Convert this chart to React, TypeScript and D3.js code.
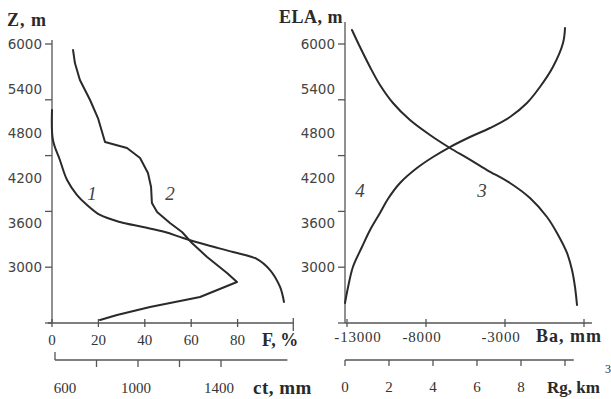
import * as d3 from "d3";

// elevation (m) shared by both panels
const zTicks = [2250, 3000, 3750, 4500, 5250, 6000];
const zLabels = [6000, 5400, 4800, 4200, 3600, 3000];

const fTicks = [0, 20, 40, 60, 80];
const ctTicks = [800, 1000, 1200, 1400];
const ctLabels = [600, 1000, 1400];
const baTicks = [-13000, -8000, -3000, 2000];
const baLabels = [-13000, -8000, -3000];
const rgTicks = [0, 2, 4, 6, 8, 10];
const rgLabels = [0, 2, 4, 6, 8];

// curve 1: F, % by altitude
const curve1F = [0, 0.4, 3.4, 6.5, 10.8, 15.1, 20.7, 29.3, 39.2, 48.7, 56.5, 66.8, 78, 88.4, 94, 98.3, 100];
const curve1Z = [5113, 4710, 4441, 4172, 3970, 3836, 3702, 3607, 3540, 3473, 3392, 3298, 3204, 3110, 2962, 2734, 2532];

// curve 2: ct, mm by altitude
const curve2Ct = [687, 696, 720, 769, 807, 841, 947, 1010, 1048, 1063, 1067, 1092, 1154, 1212, 1260, 1333, 1429, 1477, 1299, 1058, 899, 817];
const curve2Z = [5919, 5744, 5516, 5247, 5005, 4683, 4602, 4468, 4266, 4078, 3863, 3742, 3594, 3473, 3325, 3137, 2922, 2801, 2599, 2465, 2358, 2290];

// curve 3: Ba, mm vs ELA
const curve3Ba = [-12684, -12177, -11544, -10911, -10089, -9013, -7747, -6481, -5405, -4139, -2684, -1418, -342, 291, 924, 1241, 1430, 1557];
const curve3Z = [6188, 5959, 5691, 5449, 5207, 4978, 4777, 4602, 4468, 4306, 4132, 3930, 3675, 3460, 3191, 2962, 2734, 2492];

// curve 4: Rg, km3 vs ELA
const curve4Rg = [0, 0.14, 0.36, 0.77, 1.14, 1.59, 1.95, 2.5, 3.27, 4.0, 4.77, 5.68, 6.59, 7.5, 8.27, 8.86, 9.45, 9.91, 10.0];
const curve4Z = [2519, 2734, 3003, 3271, 3500, 3728, 3917, 4132, 4333, 4481, 4615, 4750, 4871, 5019, 5207, 5422, 5691, 6013, 6215];

const W = 611;
const H = 399;

const ink = "#2a2a2a";
const axisInk = "#555";
const serif = "'Liberation Serif', 'Times New Roman', serif";
const sans = "'DejaVu Sans', Verdana, sans-serif";

export default function App() {
  const y = d3.scaleLinear().domain([2250, 6000]).range([323, 44]);
  const fx = d3.scaleLinear().domain([0, 100]).range([52, 284]);
  const ctx = d3.scaleLinear().domain([600, 1400]).range([55, 221]);
  const bax = d3.scaleLinear().domain([-13000, 2000]).range([347, 584]);
  const rgx = d3.scaleLinear().domain([0, 10]).range([345, 565]);

  const leftX = fx(0);
  const rightX = rgx(0);
  const baseY = y(2250);

  const line = (xs: number[], zs: number[], sx: (v: number) => number, curve: d3.CurveFactory) =>
    d3
      .line<number>()
      .x((_, i) => sx(xs[i]))
      .y((_, i) => y(zs[i]))
      .curve(curve)(zs.map((_, i) => i)) || "";

  const p1 = line(curve1F, curve1Z, fx, d3.curveCatmullRom);
  const p2 = line(curve2Ct, curve2Z, ctx, d3.curveLinear);
  const p3 = line(curve3Ba, curve3Z, bax, d3.curveCatmullRom);
  const p4 = line(curve4Rg, curve4Z, rgx, d3.curveCatmullRom);

  const ctY = 360;

  return (
    <svg width={W} height={H} style={{ position: "absolute", left: 0, top: 0, background: "#fff" }}>
      {/* titles */}
      <text x={7} y={20} fontFamily={serif} fontWeight="bold" fontSize={18} letterSpacing={1} dominantBaseline="central" fill={ink}>
        Z, m
      </text>
      <text x={279} y={17} fontFamily={serif} fontWeight="bold" fontSize={18} letterSpacing={0.5} dominantBaseline="central" fill={ink}>
        ELA, m
      </text>

      {/* y axes */}
      {[{ x: leftX, top: 40 }, { x: rightX, top: 22 }].map((a, k) => (
        <g key={k} stroke={axisInk} strokeWidth={1.3}>
          <line x1={a.x} x2={a.x} y1={a.top} y2={baseY} />
          {zTicks.map((t) => (
            <line key={t} x1={a.x - 7} x2={a.x} y1={y(t)} y2={y(t)} />
          ))}
        </g>
      ))}
      {[leftX, rightX].map((ax, k) =>
        zLabels.map((t) => (
          <text key={k + "-" + t} x={ax - 10} y={y(t)} textAnchor="end" dominantBaseline="central" fontFamily={sans} fontSize={13.5} fill="#444">
            {t}
          </text>
        ))
      )}

      {/* F axis */}
      <g stroke={axisInk} strokeWidth={1.3}>
        <line x1={leftX - 4} x2={fx(104)} y1={baseY} y2={baseY} />
        <line x1={fx(104)} x2={fx(104)} y1={baseY - 5} y2={baseY + 8} />
        {fTicks.map((t) => (
          <line key={t} x1={fx(t)} x2={fx(t)} y1={baseY - 4} y2={baseY + 4} />
        ))}
      </g>
      {fTicks.map((t) => (
        <text key={t} x={fx(t)} y={340} textAnchor="middle" dominantBaseline="central" fontFamily={serif} fontSize={15} fill="#333">
          {t}
        </text>
      ))}
      <text x={262} y={340} fontFamily={serif} fontWeight="bold" fontSize={18} dominantBaseline="central" fill={ink}>
        F, %
      </text>

      {/* ct axis */}
      <g stroke={axisInk} strokeWidth={1.3}>
        <line x1={ctx(600)} x2={ctx(1720)} y1={ctY} y2={ctY} />
        <line x1={ctx(600)} x2={ctx(600)} y1={ctY - 8} y2={ctY} />
        {ctTicks.map((t) => (
          <line key={t} x1={ctx(t)} x2={ctx(t)} y1={ctY} y2={ctY + 7} />
        ))}
      </g>
      {ctLabels.map((t) => (
        <text key={t} x={ctx(t) + (t === 600 ? 10 : -2)} y={388} textAnchor="middle" dominantBaseline="central" fontFamily={serif} fontSize={15} fill="#333">
          {t}
        </text>
      ))}
      <text x={253} y={387} fontFamily={serif} fontWeight="bold" fontSize={19} letterSpacing={0.5} dominantBaseline="central" fill={ink}>
        ct, mm
      </text>

      {/* Ba axis */}
      <g stroke={axisInk} strokeWidth={1.3}>
        <line x1={rightX} x2={bax(2500)} y1={baseY} y2={baseY} />
        {baTicks.map((t) => (
          <line key={t} x1={bax(t)} x2={bax(t)} y1={baseY - 4} y2={baseY + 4} />
        ))}
      </g>
      {baLabels.map((t) => (
        <text key={t} x={bax(t) + (t === -13000 ? 11 : -4)} y={337} textAnchor="middle" dominantBaseline="central" fontFamily={serif} fontSize={15} letterSpacing={0.8} fill="#333">
          {t}
        </text>
      ))}
      <text x={536} y={336} fontFamily={serif} fontWeight="bold" fontSize={18} letterSpacing={1} dominantBaseline="central" fill={ink}>
        Ba, mm
      </text>

      {/* Rg axis */}
      <g stroke={axisInk} strokeWidth={1.3}>
        <line x1={rightX} x2={rgx(10.4)} y1={ctY} y2={ctY} />
        {rgTicks.map((t) => (
          <line key={t} x1={rgx(t)} x2={rgx(t)} y1={ctY} y2={ctY + 6} />
        ))}
      </g>
      {rgLabels.map((t) => (
        <text key={t} x={rgx(t)} y={387} textAnchor="middle" dominantBaseline="central" fontFamily={serif} fontSize={15} fill="#333">
          {t}
        </text>
      ))}
      <text x={547} y={387} fontFamily={serif} fontWeight="bold" fontSize={17} dominantBaseline="central" fill={ink}>
        Rg, km
      </text>
      <text x={605} y={369} fontFamily={serif} fontSize={12} dominantBaseline="central" fill={ink}>
        3
      </text>

      {/* curves */}
      <g fill="none" stroke={ink} strokeWidth={2} strokeLinejoin="round" strokeLinecap="round">
        <path d={p1} />
        <path d={p2} />
        <path d={p3} />
        <path d={p4} />
      </g>

      {/* curve numbers */}
      {[
        { t: "1", x: 92, y: 193 },
        { t: "2", x: 170, y: 193 },
        { t: "4", x: 360, y: 190 },
        { t: "3", x: 482, y: 190 },
      ].map((l) => (
        <text key={l.t} x={l.x} y={l.y} textAnchor="middle" dominantBaseline="central" fontFamily={serif} fontStyle="italic" fontSize={19} fill="#444">
          {l.t}
        </text>
      ))}
    </svg>
  );
}
